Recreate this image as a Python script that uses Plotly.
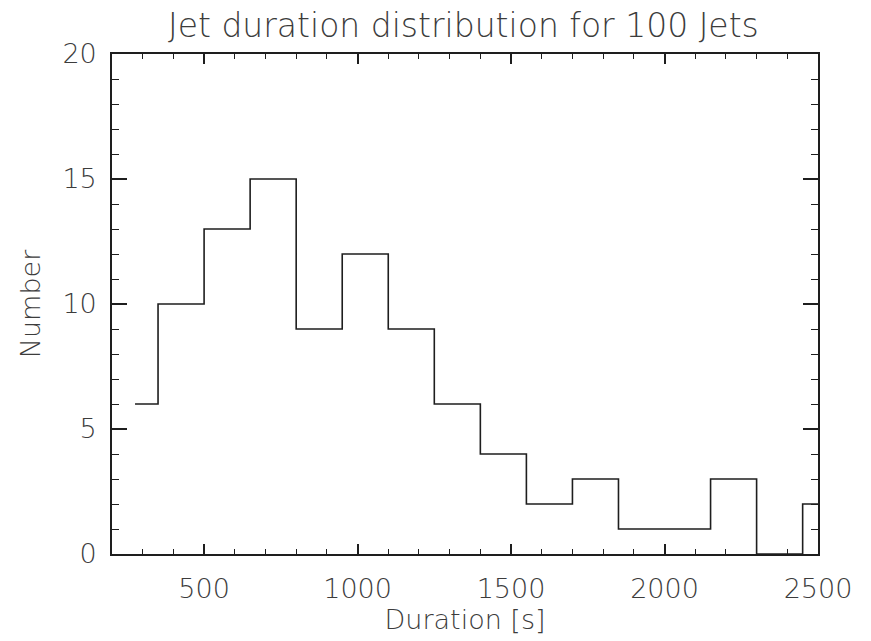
import plotly.graph_objects as go

# Histogram of jet durations (bin centres, 150 s bins)
bin_centers = [275, 425, 575, 725, 875, 1025, 1175, 1325, 1475, 1625,
               1775, 1925, 2075, 2225, 2375, 2525]
counts = [6, 10, 13, 15, 9, 12, 9, 6, 4, 2, 3, 1, 1, 3, 0, 2]

x_ticks = [500, 1000, 1500, 2000, 2500]
y_ticks = [0, 5, 10, 15, 20]

title_text = "Jet duration distribution for 100 Jets"
x_title = "Duration [s]"
y_title = "Number"

LINE = "#1e1e1e"
TEXT = "#3c3c3c"
FONT = "DejaVu Sans"
WEIGHT = 200

fig = go.Figure()
fig.add_trace(go.Scatter(
    x=bin_centers, y=counts, mode="lines",
    line=dict(shape="hvh", color=LINE, width=1.6),
    hoverinfo="skip", showlegend=False,
))

fig.update_layout(
    width=871, height=641,
    margin=dict(l=112, r=53, t=54, b=87),
    paper_bgcolor="white", plot_bgcolor="white",
    font=dict(family=FONT, color=TEXT, size=27, weight=WEIGHT),
    title=dict(text=title_text, x=0.532, xanchor="center",
               y=1 - 25 / 641, yanchor="middle",
               font=dict(family=FONT, size=33, color=TEXT, weight=WEIGHT)),
)

fig.update_xaxes(
    range=[200, 2500], tickvals=x_ticks, ticktext=[str(v) for v in x_ticks],
    automargin=False,
    showgrid=False, zeroline=False,
    showline=True, linecolor=LINE, linewidth=1.6, mirror="ticks",
    ticks="inside", ticklen=10, tickwidth=1.6, tickcolor=LINE,
    ticklabelstandoff=10,
    tickfont=dict(family=FONT, size=27, color=TEXT, weight=WEIGHT),
    minor=dict(ticks="inside", dtick=100, tick0=0, ticklen=5,
               tickwidth=1.4, tickcolor=LINE, showgrid=False),
    title=dict(text=x_title, standoff=7,
               font=dict(family=FONT, size=27, color=TEXT, weight=WEIGHT)),
)
fig.update_yaxes(
    range=[0, 20], tickvals=y_ticks, ticktext=[str(v) for v in y_ticks],
    automargin=False,
    showgrid=False, zeroline=False,
    showline=True, linecolor=LINE, linewidth=1.6, mirror="ticks",
    ticks="inside", ticklen=15, tickwidth=1.6, tickcolor=LINE,
    ticklabelstandoff=8,
    tickfont=dict(family=FONT, size=27, color=TEXT, weight=WEIGHT),
    minor=dict(ticks="inside", dtick=1, tick0=0, ticklen=7,
               tickwidth=1.4, tickcolor=LINE, showgrid=False),
    title=dict(text=y_title, standoff=14,
               font=dict(family=FONT, size=27, color=TEXT, weight=WEIGHT)),
)

fig.write_html("out.html")
